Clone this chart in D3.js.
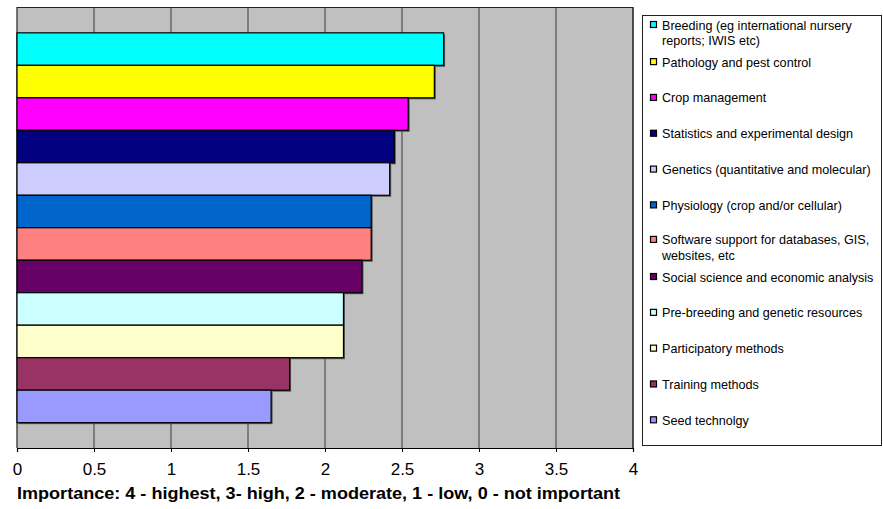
<!DOCTYPE html>
<html>
<head>
<meta charset="utf-8">
<script src="https://cdn.jsdelivr.net/npm/d3@7/dist/d3.min.js"></script>
<style>
  html, body { margin: 0; padding: 0; background: #fff; }
  svg { display: block; font-family: "Liberation Sans", Arial, Helvetica, sans-serif; }
</style>
</head>
<body>
<svg id="chart" width="883" height="509"></svg>
<script>
// Research areas, ranked by mean importance score
const categories = [
  "Breeding (eg international nursery reports; IWIS etc)",
  "Pathology and pest control",
  "Crop management",
  "Statistics and experimental design",
  "Genetics (quantitative and molecular)",
  "Physiology (crop and/or cellular)",
  "Software support for databases, GIS, websites, etc",
  "Social science and economic analysis",
  "Pre-breeding and genetic resources",
  "Participatory methods",
  "Training methods",
  "Seed technolgy"
];
const values = [2.77, 2.71, 2.54, 2.45, 2.42, 2.30, 2.30, 2.24, 2.12, 2.12, 1.77, 1.65];
const colors = [
  "#00FFFF", "#FFFF00", "#FF00FF", "#000080", "#CCCCFF", "#0066CC",
  "#FF8080", "#660066", "#CCFFFF", "#FFFFCC", "#993366", "#9999FF"
];
// Legend text broken into lines as displayed
const legendLines = [
  ["Breeding (eg international nursery", "reports; IWIS etc)"],
  ["Pathology and pest control"],
  ["Crop management"],
  ["Statistics and experimental design"],
  ["Genetics (quantitative and molecular)"],
  ["Physiology (crop and/or cellular)"],
  ["Software support for databases, GIS,", "websites, etc"],
  ["Social science and economic analysis"],
  ["Pre-breeding and genetic resources"],
  ["Participatory methods"],
  ["Training methods"],
  ["Seed technolgy"]
];
const xTicks = [0, 0.5, 1, 1.5, 2, 2.5, 3, 3.5, 4];
const xTickLabels = ["0", "0.5", "1", "1.5", "2", "2.5", "3", "3.5", "4"];
const axisTitle = "Importance: 4 - highest, 3- high, 2 - moderate, 1 - low, 0 - not important";

const svg = d3.select("#chart");
const plot = { left: 17, right: 633, top: 7.5, bottom: 448 };

const x = d3.scaleLinear().domain([0, 4]).range([plot.left, plot.right]);
const y = d3.scaleBand()
  .domain(categories)
  .range([plot.top, plot.bottom])
  .paddingInner(0)
  .paddingOuter(0.78);

// Plot area background
svg.append("rect")
  .attr("x", plot.left).attr("y", plot.top)
  .attr("width", plot.right - plot.left).attr("height", plot.bottom - plot.top)
  .attr("fill", "#C0C0C0");

// Vertical gridlines
svg.append("g")
  .selectAll("line")
  .data(xTicks.slice(1))
  .join("line")
  .attr("x1", d => x(d)).attr("x2", d => x(d))
  .attr("y1", plot.top).attr("y2", plot.bottom)
  .attr("stroke", "#3a3a3a")
  .attr("stroke-width", 1);

// Plot border
svg.append("path")
  .attr("d", `M${plot.left},${plot.bottom}V${plot.top}H${plot.right}V${plot.bottom}`)
  .attr("fill", "none")
  .attr("stroke", "#222")
  .attr("stroke-width", 1.2);

// Bar shadows
svg.append("g")
  .selectAll("rect")
  .data(values)
  .join("rect")
  .attr("x", x(0) + 1.5)
  .attr("y", (d, i) => y(categories[i]) + 1.5)
  .attr("width", d => x(d) - x(0))
  .attr("height", y.bandwidth())
  .attr("fill", "#555");

// Bars
svg.append("g")
  .selectAll("rect")
  .data(values)
  .join("rect")
  .attr("x", x(0))
  .attr("y", (d, i) => y(categories[i]))
  .attr("width", d => x(d) - x(0))
  .attr("height", y.bandwidth())
  .attr("fill", (d, i) => colors[i])
  .attr("stroke", "#000")
  .attr("stroke-width", 1.2);

// X axis
const xAxis = d3.axisBottom(x)
  .tickValues(xTicks)
  .tickFormat((d, i) => xTickLabels[i])
  .tickSize(4)
  .tickPadding(11);
const gx = svg.append("g")
  .attr("transform", `translate(0,${plot.bottom})`)
  .call(xAxis);
gx.select(".domain").attr("stroke", "#000").attr("stroke-width", 1.2);
gx.selectAll(".tick line").attr("stroke", "#000");
gx.selectAll(".tick text")
  .attr("fill", "#000")
  .style("font-size", "17px")
  .style("font-family", "'Liberation Sans', Arial, sans-serif");

// Axis title
svg.append("text")
  .attr("x", plot.left)
  .attr("y", 499)
  .attr("font-size", "16px")
  .attr("font-weight", "bold")
  .attr("fill", "#000")
  .attr("textLength", 603)
  .attr("lengthAdjust", "spacingAndGlyphs")
  .text(axisTitle);

// Legend
const legend = svg.append("g");
legend.append("rect")
  .attr("x", 642.5).attr("y", 15.5)
  .attr("width", 239).attr("height", 430)
  .attr("fill", "#fff")
  .attr("stroke", "#222")
  .attr("stroke-width", 1);

const rowY = d3.scaleLinear().domain([0, 11]).range([26.3, 420.3]);
const items = legend.selectAll("g.item")
  .data(categories)
  .join("g")
  .attr("class", "item")
  .attr("transform", (d, i) => `translate(650,${rowY(i) - (legendLines[i].length > 1 ? 1.3 : 0)})`);

items.append("rect")
  .attr("x", 0.5).attr("y", -3.5)
  .attr("width", 6).attr("height", 6)
  .attr("fill", (d, i) => colors[i])
  .attr("stroke", "#000")
  .attr("stroke-width", 1.2);

items.append("text")
  .attr("x", 12)
  .attr("y", 4.5)
  .attr("font-size", "12.6px")
  .attr("fill", "#000")
  .selectAll("tspan")
  .data((d, i) => legendLines[i])
  .join("tspan")
  .attr("x", 12)
  .attr("dy", (d, j) => j === 0 ? 0 : 15.5)
  .text(d => d);
</script>
</body>
</html>
